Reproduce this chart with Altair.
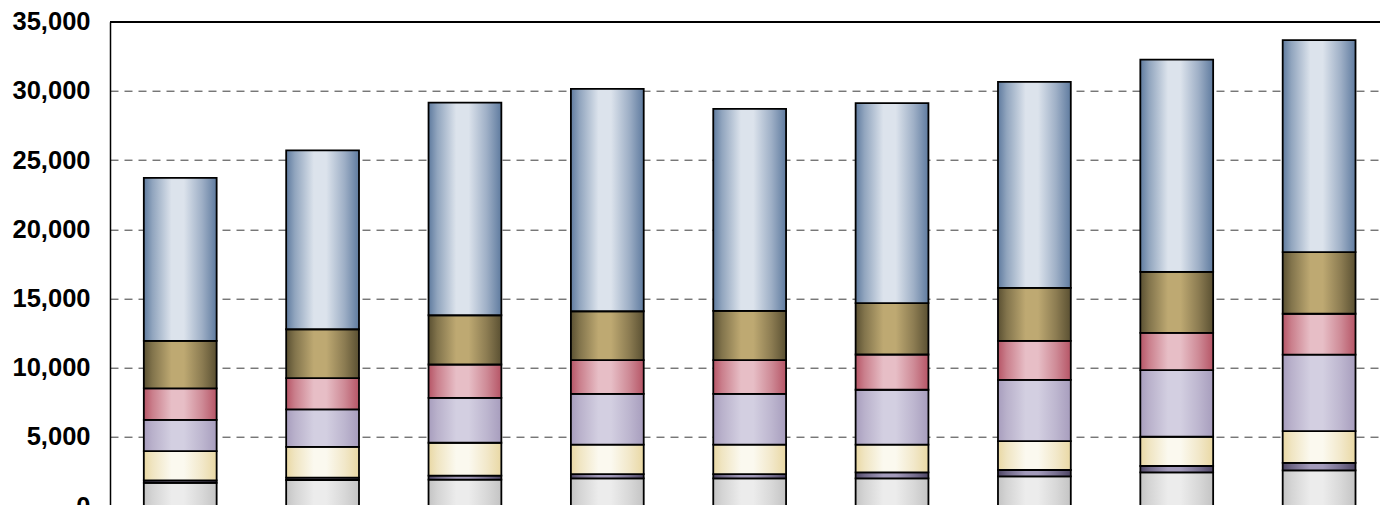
import altair as alt
import pandas as pd

categories = ["1", "2", "3", "4", "5", "6", "7", "8", "9"]
series_names = ["gray", "dark", "cream", "lavender", "pink", "olive", "blue"]

gray = [1680, 1880, 1900, 2000, 2000, 2000, 2140, 2430, 2570]
dark = [175, 165, 290, 310, 310, 430, 460, 460, 550]
cream = [2115, 2235, 2380, 2120, 2120, 2000, 2095, 2115, 2285]
lavender = [2260, 2700, 3250, 3680, 3680, 3970, 4425, 4810, 5530]
pink = [2265, 2260, 2405, 2430, 2430, 2550, 2815, 2695, 2960]
olive = [3435, 3535, 3560, 3535, 3560, 3705, 3825, 4405, 4450]
blue = [11790, 12920, 15370, 16070, 14600, 14460, 14895, 15350, 15325]

values = {"gray": gray, "dark": dark, "cream": cream, "lavender": lavender,
          "pink": pink, "olive": olive, "blue": blue}

# style: (edge colour, centre colour)
palette = {
    "gray": ("#c4c4c4", "#ececec"),
    "dark": ("#4e4664", "#a39bbb"),
    "cream": ("#e9d8a4", "#fbf9ef"),
    "lavender": ("#a79dbd", "#d3cfe1"),
    "pink": ("#b65566", "#e7bec6"),
    "olive": ("#5a5032", "#bea972"),
    "blue": ("#5f7b9f", "#dce3ec"),
}

rows = []
for order, s in enumerate(series_names):
    for c, v in zip(categories, values[s]):
        rows.append({"cat": c, "series": s, "order": order, "value": v})
df = pd.DataFrame(rows)


def mix(a, b, t):
    a = [int(a[i:i + 2], 16) for i in (1, 3, 5)]
    b = [int(b[i:i + 2], 16) for i in (1, 3, 5)]
    return "#" + "".join(f"{round(x + (y - x) * t):02x}" for x, y in zip(a, b))


def gradient(s):
    edge, centre = palette[s]
    return alt.Gradient(
        gradient="linear", x1=0, x2=1, y1=0, y2=0,
        stops=[
            alt.GradientStop(offset=0.0, color=edge),
            alt.GradientStop(offset=0.12, color=mix(edge, centre, 0.4)),
            alt.GradientStop(offset=0.38, color=centre),
            alt.GradientStop(offset=0.55, color=centre),
            alt.GradientStop(offset=0.8, color=mix(edge, centre, 0.5)),
            alt.GradientStop(offset=1.0, color=edge),
        ],
    )


W = 1270
H = 484.3

xscale = alt.Scale(paddingInner=0.4885, paddingOuter=0.2048, align=0.58)
yscale = alt.Scale(domain=[0, 35000], nice=False)

yaxis = alt.Axis(
    values=list(range(0, 35001, 5000)), format=",.0f", title=None,
    labelFont="Liberation Sans", labelFontWeight="bold", labelFontSize=25.5,
    labelColor="#000", labelPadding=20, ticks=False,
    domain=True, domainColor="#000", domainWidth=1.5,
    grid=True, gridColor="#3a3a3a", gridDash=[8, 6], gridWidth=1,
)

base = alt.Chart(df).transform_stack(
    stack="value", as_=["y0", "y1"], groupby=["cat"],
    sort=[alt.SortField("order", order="ascending")],
)

layers = []
for s in series_names:
    layers.append(
        base.transform_filter(alt.datum.series == s)
        .mark_bar(fill=gradient(s), stroke="#000", strokeWidth=1.8)
        .encode(
            x=alt.X("cat:N", sort=categories, scale=xscale, axis=None),
            y=alt.Y("y0:Q", scale=yscale, axis=yaxis),
            y2="y1:Q",
        )
    )

top_frame = alt.Chart(df).mark_rule(color="#000", strokeWidth=1.5).encode(
    x=alt.value(0), x2=alt.value(W), y=alt.value(0)
)

chart = alt.layer(*layers, top_frame).properties(
    width=W,
    height=H,
    autosize=alt.AutoSizeParams(type="none"),
    padding={"left": 110, "top": 21.7, "right": 0, "bottom": 0},
).configure_view(stroke=None).configure(background="white")

chart.save("out.html", embed_options={"renderer": "svg", "actions": False})
